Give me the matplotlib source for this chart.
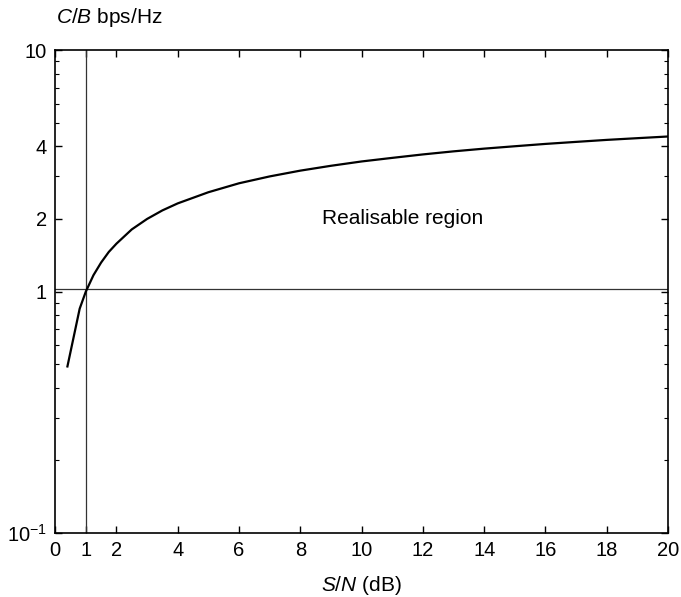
import numpy as np
import matplotlib.pyplot as plt
from matplotlib.ticker import FixedLocator, FixedFormatter, NullFormatter

plt.rcParams['font.family'] = ['Liberation Sans', 'DejaVu Sans']
plt.rcParams['mathtext.fontset'] = 'custom'
plt.rcParams['mathtext.rm'] = 'Liberation Sans'
plt.rcParams['mathtext.it'] = 'Liberation Sans:italic'

# S/N values and capacity per bandwidth
snr = [0.4, 0.8, 1, 1.25, 1.5, 1.75, 2, 2.5, 3, 3.5, 4, 5, 6, 7, 8, 9, 10,
       11, 12, 13, 14, 15, 16, 17, 18, 19, 20]
cb = [0.49, 0.85, 1.0, 1.17, 1.32, 1.46, 1.58, 1.81, 2.0, 2.17, 2.32, 2.58,
      2.81, 3.0, 3.17, 3.32, 3.46, 3.58, 3.70, 3.81, 3.91, 4.0, 4.09, 4.17,
      4.25, 4.32, 4.39]

xticks = [0, 1, 2, 4, 6, 8, 10, 12, 14, 16, 18, 20]
yticks = [0.1, 1, 2, 4, 10]
ylabels = [r'$10^{-1}$', '1', '2', '4', '10']
yminor = [0.2, 0.3, 0.4, 0.5, 0.6, 0.7, 0.8, 0.9, 3, 5, 6, 7, 8, 9]

fig = plt.figure(figsize=(6.81, 5.97), dpi=100)
ax = fig.add_axes([0.081, 0.107, 0.9, 0.809])

ax.axvline(1, color='#333333', lw=0.9)
ax.axhline(1.03, color='#333333', lw=0.9)
ax.plot(snr, cb, color='black', lw=1.6)

ax.set_yscale('log')
ax.set_xlim(0, 20)
ax.set_ylim(0.1, 10)
ax.set_xticks(xticks)
ax.set_xticklabels([str(t) for t in xticks])
ax.yaxis.set_major_locator(FixedLocator(yticks))
ax.yaxis.set_major_formatter(FixedFormatter(ylabels))
ax.yaxis.set_minor_locator(FixedLocator(yminor))
ax.yaxis.set_minor_formatter(NullFormatter())

ax.tick_params(which='both', direction='in', top=True, right=True, labelsize=14.5)
ax.tick_params(which='major', length=5, width=1, pad=6)
ax.tick_params(which='minor', length=3, width=0.8)
for s in ax.spines.values():
    s.set_linewidth(1.2)

ax.text(8.7, 2.0, 'Realisable region', fontsize=15, va='center', ha='left')
ax.set_xlabel(r'$S/N$ (dB)', fontsize=15, labelpad=10)
fig.text(0.082, 0.97, r'$C/B$ bps/Hz', fontsize=15, ha='left', va='center')

fig.savefig('out.png', dpi=100)
